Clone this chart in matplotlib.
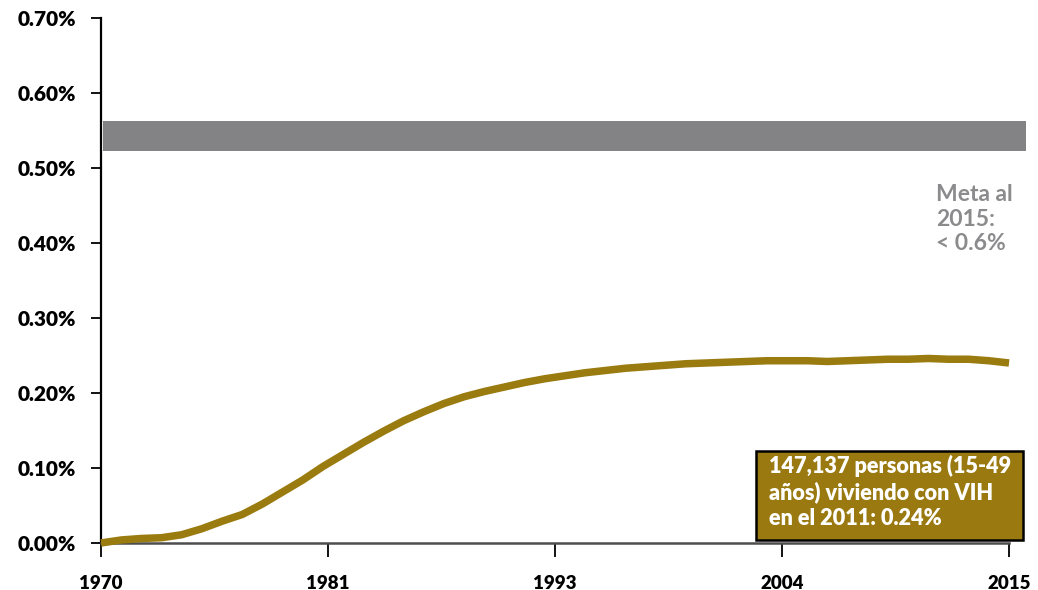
import matplotlib.pyplot as plt
from matplotlib.patches import Rectangle
import numpy as np

plt.rcParams['font.family'] = ['Lato', 'DejaVu Sans']

# Prevalencia estimada de VIH (15-49 años), en %
years = list(range(1970, 2016))
prevalence = [0.000, 0.004, 0.006, 0.007, 0.011, 0.019, 0.029, 0.038, 0.052, 0.068,
              0.084, 0.102, 0.118, 0.134, 0.149, 0.163, 0.175, 0.186, 0.195, 0.202,
              0.208, 0.214, 0.219, 0.223, 0.227, 0.230, 0.233, 0.235, 0.237, 0.239,
              0.240, 0.241, 0.242, 0.243, 0.243, 0.243, 0.242, 0.243, 0.244, 0.245,
              0.245, 0.246, 0.245, 0.245, 0.243, 0.240]

# Meta al 2015
goal_low, goal_high = 0.523, 0.563

y_ticks = [0.0, 0.1, 0.2, 0.3, 0.4, 0.5, 0.6, 0.7]
x_tick_labels = ['1970', '1981', '1993', '2004', '2015']

line_color = '#9a7b0f'
goal_color = '#838386'

fig = plt.figure(figsize=(10.38, 5.90), dpi=100)
ax = fig.add_axes([0.0973, 0.0797, 0.8748, 0.8898])

ax.axhspan(goal_low, goal_high, xmin=0.002, xmax=1.019, color=goal_color,
           lw=0, clip_on=False, zorder=1)

ax.plot(years, prevalence, color=line_color, lw=5.4, solid_capstyle='butt',
        solid_joinstyle='round', clip_on=False, zorder=3)

ax.set_xlim(1970, 2015)
ax.set_ylim(0, 0.70)

ax.set_yticks(y_ticks)
ax.set_yticklabels(['%.2f%%' % v for v in y_ticks])
ax.set_xticks(np.linspace(1970, 2015, len(x_tick_labels)))
ax.set_xticklabels(x_tick_labels)

for s in ['top', 'right']:
    ax.spines[s].set_visible(False)
ax.spines['left'].set_linewidth(1.6)
ax.spines['left'].set_color('black')
ax.spines['bottom'].set_linewidth(1.8)
ax.spines['bottom'].set_color('#4d4d4d')

ax.tick_params(axis='y', length=7, width=1.3, pad=11, labelsize=15)
ax.tick_params(axis='x', length=10, width=1.3, pad=13, labelsize=13.5)
for lbl in ax.get_xticklabels() + ax.get_yticklabels():
    lbl.set_fontweight('heavy')

ax.text(2011.4, 0.478, 'Meta al\n2015:\n< 0.6%', color='#8b8b8d', fontsize=16.5,
        fontweight='bold', va='top', ha='left', linespacing=1.19)

box = Rectangle((2002.45, 0.004), 13.25, 0.119, facecolor='#9a7a10',
                edgecolor='black', lw=1.8, clip_on=False, zorder=4)
ax.add_patch(box)
ax.text(2003.1, 0.117, '147,137 personas (15-49\naños) viviendo con VIH\nen el 2011: 0.24%',
        color='white', fontsize=15.6, fontweight='heavy', va='top', ha='left',
        linespacing=1.25, zorder=5)

fig.savefig('out.png', dpi=100)
